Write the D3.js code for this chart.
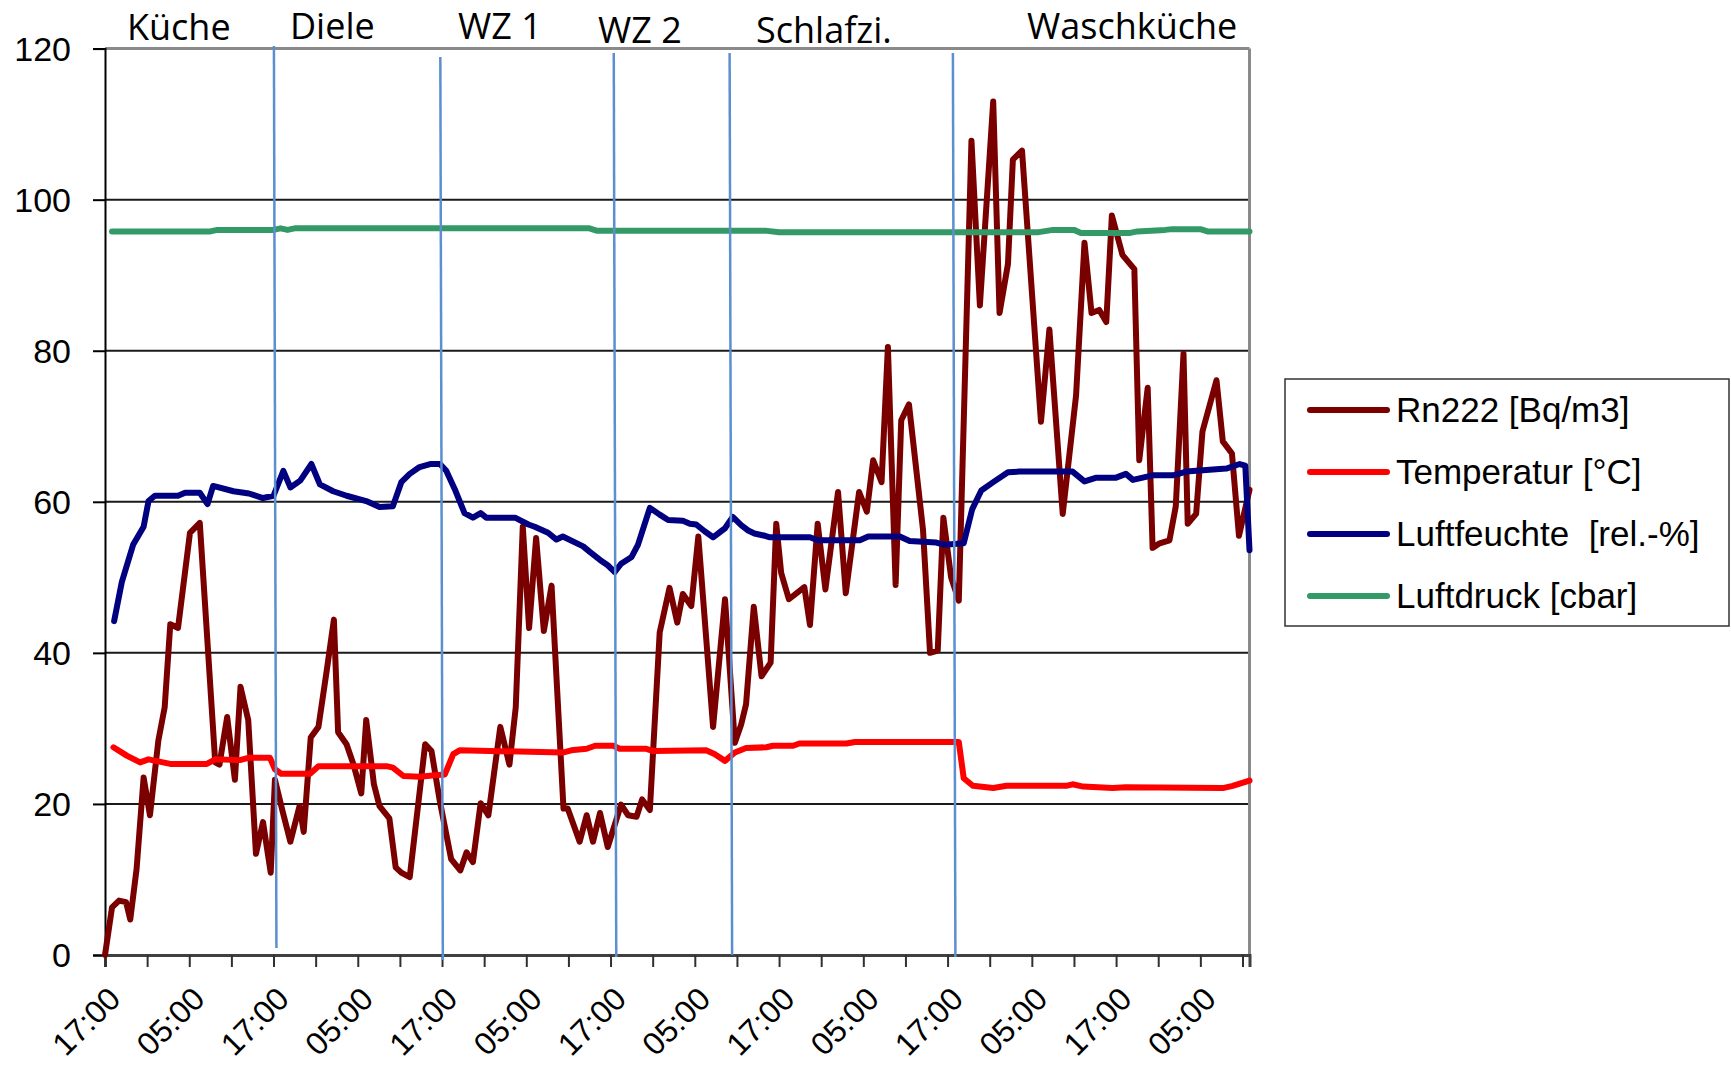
<!DOCTYPE html>
<html><head><meta charset="utf-8">
<script src="https://cdn.jsdelivr.net/npm/d3@7"></script>
<style>body{margin:0;background:#fff}svg{display:block}</style>
</head><body>
<svg id="chart" width="1731" height="1069"></svg>
<script>
// ---------- data (hour index since first 17:00 reading, value) ----------
const rooms = ["Küche", "Diele", "WZ 1", "WZ 2", "Schlafzi.", "Waschküche"];
const roomBoundaryHours = [24.2, 47.9, 72.6, 89.1, 120.9];
const seriesNames = ["Rn222 [Bq/m3]", "Temperatur [°C]", "Luftfeuchte  [rel.-%]", "Luftdruck [cbar]"];
const yTicks = [0, 20, 40, 60, 80, 100, 120];
const xTickHours = d3.range(0, 163, 6);
const xLabelText = h => (h % 24 === 0 ? "17:00" : h % 24 === 12 ? "05:00" : "");

const rn222 = [[0,0],[1,6.3],[2,7.2],[3,7],[3.6,4.7],[4.5,11.4],[5.5,23.5],[6.4,18.5],[7.6,28.4],[8.5,32.8],[9.3,43.8],[10.4,43.3],[12.1,55.9],[13.5,57.2],[15.7,25.5],[16.3,25.2],[17.4,31.5],[18.5,23.2],[19.3,35.5],[20.4,31.1],[21.5,13.4],[22.5,17.6],[23.6,10.9],[24.2,23.2],[25.3,19],[26.4,15],[27.7,19.7],[28.3,16.3],[29.3,28.8],[30.4,30.2],[31.6,37.8],[32.6,44.4],[33.2,29.5],[34.4,27.9],[35.4,25.2],[36.5,21.4],[37.2,31.1],[38.3,22.6],[39.1,19.7],[40.5,18.1],[41.4,11.6],[42.2,10.9],[43.4,10.3],[45.6,27.9],[46.5,27],[47.7,20.3],[49.3,12.7],[50.6,11.2],[51.5,13.6],[52.4,12.3],[53.5,20.1],[54.6,18.5],[56.3,30.2],[57.6,25.2],[58.5,32.8],[59.5,56.7],[60.4,43.3],[61.4,55.2],[62.5,42.9],[63.6,48.9],[65.3,19.4],[65.9,19.4],[67.6,15],[68.6,18.5],[69.5,15],[70.5,18.8],[71.6,14.3],[73.5,19.9],[74.5,18.5],[75.7,18.3],[76.5,20.6],[77.6,19.2],[79,42.7],[80.4,48.6],[81.5,44],[82.3,47.8],[83.5,46.2],[84.5,55.4],[86.6,30.2],[88.3,47.1],[89.7,28.1],[90.6,30.5],[91.3,33.2],[92.4,46.1],[93.5,36.9],[94.8,38.7],[95.6,57.1],[96.3,50.6],[97.4,47.1],[99.6,48.7],[100.4,43.7],[101.5,57.1],[102.6,48.4],[104.4,61.3],[105.5,47.9],[107.4,61.3],[108.5,58.7],[109.4,65.5],[110.6,62.6],[111.5,80.5],[112.6,49],[113.4,70.8],[114.5,72.9],[116.5,56.3],[117.5,40],[118.6,40.3],[119.4,57.9],[120.5,50],[121.6,46.9],[123.4,107.8],[124.6,86],[126.5,113],[127.4,85],[128.6,91.5],[129.3,105.3],[130.6,106.5],[133.3,70.6],[134.5,82.8],[136.4,58.4],[138.3,74.1],[139.5,94.3],[140.5,85],[141.6,85.4],[142.6,83.8],[143.4,97.9],[144.9,92.7],[145.7,91.8],[146.6,90.8],[147.3,65.5],[148.5,75.1],[149.2,53.9],[150.2,54.5],[151.6,54.9],[152.5,59.4],[153.6,79.6],[154.2,57.1],[155.4,58.4],[156.3,69.3],[158.3,76.1],[159.2,68],[160.5,66.4],[161.5,55.5],[163,61.6]];

const temperatur = [[1.2,27.5],[3.1,26.4],[5,25.5],[6.2,25.9],[9.3,25.3],[14.5,25.3],[15.7,25.9],[19.2,25.8],[20.4,26.1],[23.5,26.1],[24.2,24.6],[25.1,24],[29.2,24],[30.4,25],[40.1,25],[41,24.8],[42.5,23.7],[44.8,23.6],[47,23.8],[48.4,23.9],[49.6,26.6],[50.5,27.1],[65.2,26.8],[66.4,27.1],[68.6,27.3],[69.8,27.7],[72.4,27.7],[73.3,27.3],[77.1,27.3],[78.1,27],[85.6,27.1],[86.8,26.6],[88.3,25.7],[89.7,26.8],[91.3,27.4],[94.2,27.5],[95.1,27.7],[98,27.7],[98.9,28],[105.6,28],[106.8,28.2],[121.6,28.2],[122.3,23.4],[123.6,22.4],[126.5,22.1],[128.4,22.4],[136.9,22.4],[137.8,22.6],[139.3,22.3],[143.5,22.1],[145.4,22.2],[159.2,22.1],[160.6,22.4],[163,23.1]];

const luftfeuchte = [[1.3,44.2],[2.4,49.4],[4,54.3],[5.5,56.7],[6.2,60.1],[7.1,60.8],[10.4,60.8],[11.4,61.2],[13.5,61.2],[14.6,59.7],[15.4,62.1],[18.3,61.4],[20.5,61.1],[22.5,60.5],[24,60.8],[25.4,64.1],[26.4,61.9],[27.8,62.8],[29.4,65],[30.6,62.3],[32.5,61.4],[34.4,60.8],[37.2,60.1],[39.1,59.3],[41,59.4],[42.2,62.6],[43.4,63.7],[44.8,64.6],[46.3,65],[47.7,65],[48.6,64.1],[49.8,61.7],[51.2,58.5],[52.4,57.9],[53.5,58.5],[54.3,57.9],[58.4,57.9],[60.3,57],[61.2,56.7],[63.1,55.9],[64.3,55],[65.2,55.4],[68.1,54.1],[69,53.4],[70.5,52.3],[71.6,51.6],[72.6,50.7],[73.5,51.8],[75,52.7],[75.9,54.3],[77.6,59.2],[79,58.3],[80.2,57.6],[82.3,57.5],[83.3,57.1],[84.2,57],[85.4,56.1],[86.6,55.3],[88.3,56.5],[89.4,58],[90.6,56.9],[91.6,56.2],[92.5,55.8],[94,55.5],[94.7,55.3],[100.4,55.3],[101.5,54.9],[107.5,54.9],[108.7,55.4],[113.2,55.4],[114.6,54.8],[118.4,54.6],[119.6,54.3],[122.3,54.5],[123.5,59],[124.8,61.5],[126.5,62.6],[128.6,63.9],[130.2,64],[137.8,64],[139.5,62.7],[141.2,63.2],[144,63.2],[145.4,63.7],[146.4,62.9],[149.2,63.5],[152.1,63.5],[154,64],[159.7,64.4],[161.6,65],[162.4,64.8],[163,53.6]];

const luftdruck = [[1,95.8],[15,95.8],[16,96.0],[24,96.0],[25,96.2],[26,96.0],[27,96.2],[69,96.2],[70,95.9],[94,95.9],[96,95.7],[133,95.7],[135,96.0],[138,96.0],[139,95.6],[146,95.6],[147,95.8],[151,96.0],[152,96.1],[156,96.1],[157,95.8],[163,95.8]];

const seriesData = [rn222, temperatur, luftfeuchte, luftdruck];
const seriesColors = ["#7a0000", "#ff0000", "#000080", "#339966"];

// ---------- layout ----------
const svg = d3.select("#chart");
const W = 1731, H = 1069;
const plot = {left: 105, right: 1249.5, top: 48.6, bottom: 955};
svg.append("rect").attr("width", W).attr("height", H).attr("fill", "#fff");

const x = d3.scaleLinear().domain([0, 163]).range([plot.left, plot.right]);
const y = d3.scaleLinear().domain([0, 120]).range([plot.bottom, plot.top]);

// gridlines
svg.append("g").selectAll("line").data(yTicks.filter(t => t > 0 && t < 120)).join("line")
  .attr("x1", plot.left).attr("x2", plot.right)
  .attr("y1", d => y(d)).attr("y2", d => y(d))
  .attr("stroke", "#1a1a1a").attr("stroke-width", 2);

// plot frame top/right (grey)
svg.append("line").attr("x1", plot.left).attr("x2", plot.right).attr("y1", y(120)).attr("y2", y(120))
  .attr("stroke", "#8a8a8a").attr("stroke-width", 3);
svg.append("line").attr("x1", plot.right).attr("x2", plot.right).attr("y1", y(120)).attr("y2", plot.bottom)
  .attr("stroke", "#8a8a8a").attr("stroke-width", 3);

// y axis
const yAxis = d3.axisLeft(y).tickValues(yTicks).tickSize(12).tickPadding(22).tickFormat(d3.format("d"));
const gy = svg.append("g").attr("transform", `translate(${plot.left},0)`).call(yAxis);
gy.select(".domain").attr("stroke", "#000").attr("stroke-width", 2);
gy.selectAll(".tick line").attr("stroke", "#000").attr("stroke-width", 2);
gy.selectAll(".tick text").attr("font-family", "Liberation Sans, Arial, sans-serif")
  .attr("font-size", 34).attr("fill", "#000").attr("dy", "0.35em");

// x axis
const xAxis = d3.axisBottom(x).tickValues(xTickHours).tickSize(12).tickFormat(xLabelText);
const gx = svg.append("g").attr("transform", `translate(0,${plot.bottom})`).call(xAxis);
gx.select(".domain").attr("stroke", "#404040").attr("stroke-width", 3);
gx.selectAll(".tick line").attr("stroke", "#303030").attr("stroke-width", 2);
gx.selectAll(".tick text").attr("font-family", "Liberation Sans, Arial, sans-serif")
  .attr("font-size", 32).attr("fill", "#000")
  .attr("text-anchor", "end").attr("x", 0).attr("y", 0).attr("dy", "0.35em")
  .attr("transform", "translate(9,38) rotate(-45)");

// series lines
const line = d3.line().x(d => x(d[0])).y(d => y(d[1]));
svg.append("g").selectAll("path").data(seriesData).join("path")
  .attr("d", line).attr("fill", "none")
  .attr("stroke", (d, i) => seriesColors[i]).attr("stroke-width", 6)
  .attr("stroke-linejoin", "round").attr("stroke-linecap", "round");

// room divider lines (hand drawn in original)
const dividerTop = [46, 57, 53, 53, 53];
const dividerBottom = [948, 960, 957, 955, 957];
svg.append("g").selectAll("line").data(roomBoundaryHours).join("line")
  .attr("x1", d => x(d) - 1).attr("x2", d => x(d) + 1.5)
  .attr("y1", (d, i) => dividerTop[i]).attr("y2", (d, i) => dividerBottom[i])
  .attr("stroke", "#5b8fd0").attr("stroke-width", 2.5);

// room labels
const roomLabelX = [127, 290, 458, 598, 756, 1027];
const roomLabelY = [40, 39, 39, 43, 43, 39];
svg.append("g").selectAll("text").data(rooms).join("text")
  .attr("x", (d, i) => roomLabelX[i]).attr("y", (d, i) => roomLabelY[i])
  .attr("font-family", "Open Sans, sans-serif").attr("font-size", 36)
  .attr("textLength", null)
  .attr("fill", "#000").text(d => d);

// legend
const lg = svg.append("g");
lg.append("rect").attr("x", 1285).attr("y", 379).attr("width", 444).attr("height", 247)
  .attr("fill", "#fff").attr("stroke", "#333").attr("stroke-width", 1.5);
const rowY = [410, 472, 534, 596];
seriesNames.forEach((name, i) => {
  lg.append("line").attr("x1", 1310).attr("x2", 1387).attr("y1", rowY[i]).attr("y2", rowY[i])
    .attr("stroke", seriesColors[i]).attr("stroke-width", 6).attr("stroke-linecap", "round");
  lg.append("text").attr("x", 1396).attr("y", rowY[i]).attr("dy", "0.35em")
    .attr("font-family", "Liberation Sans, Arial, sans-serif").attr("font-size", 35)
    .style("white-space", "pre").attr("fill", "#000").text(name);
});
</script>
</body></html>
